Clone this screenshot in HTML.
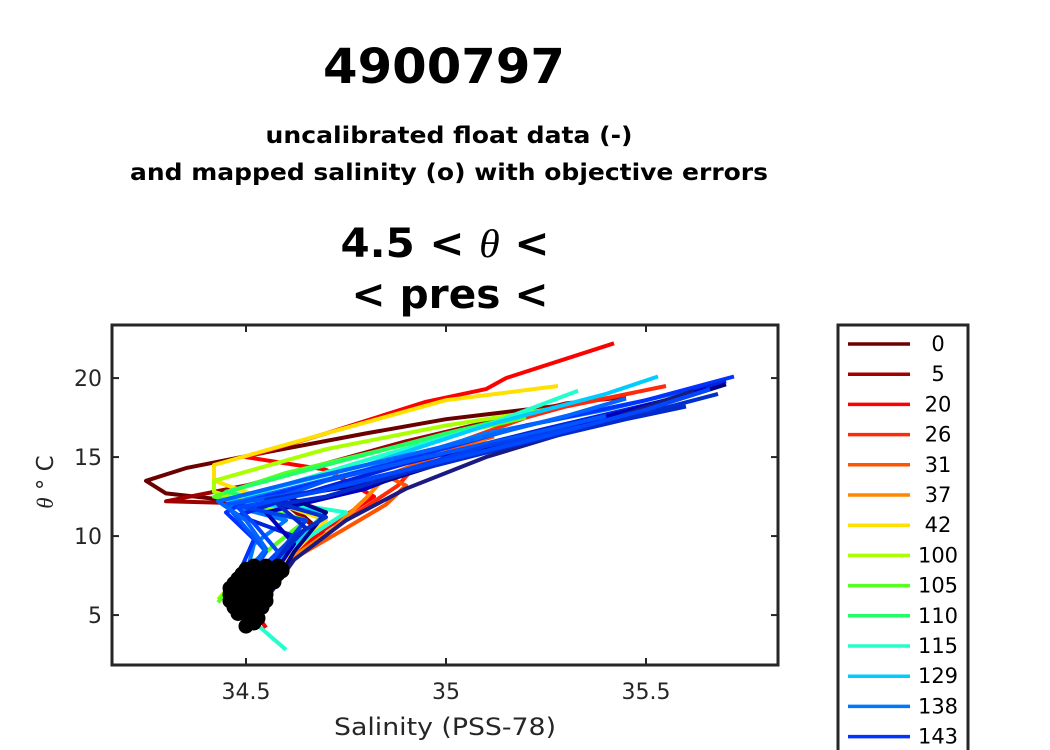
<!DOCTYPE html>
<html><head><meta charset="utf-8">
<style>
body{margin:0;background:#fff;width:1050px;height:750px;overflow:hidden;font-family:"Liberation Sans","DejaVu Sans",sans-serif;}
svg{display:block}
</style></head>
<body>
<svg id="chart" width="1050" height="750" font-family="DejaVu Sans, Liberation Sans, sans-serif">
  <text x="444" y="83" text-anchor="middle" font-size="48" font-weight="bold" textLength="242" lengthAdjust="spacingAndGlyphs">4900797</text>
  <text x="449" y="143" text-anchor="middle" font-size="23" font-weight="bold" textLength="367" lengthAdjust="spacingAndGlyphs">uncalibrated float data (-)</text>
  <text x="449" y="180" text-anchor="middle" font-size="23" font-weight="bold" textLength="638" lengthAdjust="spacingAndGlyphs">and mapped salinity (o) with objective errors</text>
  <text x="445" y="257" text-anchor="middle" font-size="40" font-weight="bold" textLength="209" lengthAdjust="spacingAndGlyphs">4.5 &lt; <tspan font-style="italic" font-family="Liberation Serif, serif" font-weight="normal">θ</tspan> &lt;</text>
  <text x="450" y="308" text-anchor="middle" font-size="40" font-weight="bold" textLength="197" lengthAdjust="spacingAndGlyphs">&lt; pres &lt;</text>
  <g id="plot"></g>
  <rect x="112" y="325" width="666" height="340" fill="none" stroke="#262626" stroke-width="3"/>
  <g id="ticks"></g>
  <text x="445" y="735" text-anchor="middle" font-size="24" fill="#262626" textLength="222" lengthAdjust="spacingAndGlyphs">Salinity (PSS-78)</text>
  <text transform="translate(53,482) rotate(-90)" text-anchor="middle" font-size="23" fill="#262626"><tspan font-style="italic" font-family="Liberation Serif, serif">θ</tspan>  °  C</text>
  <rect x="838" y="325" width="130" height="440" fill="#fff" stroke="#262626" stroke-width="3"/>
  <g id="legend"></g>
</svg>
<script>
const xTicks=[34.5,35,35.5];
const xTickLabels=["34.5","35","35.5"];
const yTicks=[5,10,15,20];
const yTickLabels=["5","10","15","20"];
const legendLabels=["0","5","20","26","31","37","42","100","105","110","115","129","138","143"];
const legendColors=["#6b0000","#a00000","#ff0000","#ff2a0a","#ff5500","#ff8800","#ffe000","#aaff00","#55ff22","#22ff66","#22ffcc","#00ccff","#0077ff","#0033ff"];
const profColors=["#6b0000","#a00000","#ff0000","#ff2a0a","#ff5500","#ff8800","#ffe000","#aaff00","#55ff22","#22ff66","#22ffcc","#00ccff","#0077ff","#0033ff","#0022dd","#0000bb","#000088","#1a1a80","#0055ff","#0040ee","#0030cc","#0066ff","#002acc","#0048ff"];
const profiles=[
 [[34.55,7.5],[34.7,10],[34.62,11.8],[34.3,12.7],[34.25,13.5],[34.35,14.3],[34.55,15.3],[34.8,16.5],[35,17.4],[35.3,18.3]],
 [[34.55,7.5],[34.7,10],[34.6,12],[34.3,12.2],[34.5,13.2],[34.7,14.6],[34.9,16],[35.1,17.2],[35.3,18.4],[35.45,18.8]],
 [[34.55,4.2],[34.5,6],[34.58,8],[34.7,10.5],[34.82,12.5],[34.7,14.2],[34.5,15],[34.7,16.5],[34.95,18.5],[35.1,19.3],[35.15,20],[35.42,22.2]],
 [[34.58,8],[34.75,11],[34.88,13.2],[34.95,15.2],[35.2,17.5],[35.3,18.2],[35.55,19.5]],
 [[34.58,8],[34.75,10.5],[34.85,12],[34.9,13.2],[34.85,13.8],[34.95,14.8],[35.05,15.8],[35.12,16.3]],
 [[34.58,8],[34.72,10.5],[34.8,12.4],[34.85,13.8],[34.95,14.3],[35.0,15],[35.1,16]],
 [[34.58,8],[34.7,11],[34.42,13.5],[34.42,14.5],[34.7,16.5],[35.0,18.6],[35.28,19.5]],
 [[34.43,6],[34.5,8],[34.65,11],[34.42,12.8],[34.42,13.5],[34.7,15.5],[35.0,17],[35.25,18]],
 [[34.43,5.8],[34.5,8],[34.65,11],[34.42,12.5],[34.6,14],[34.9,15.8],[35.2,17.5]],
 [[34.5,6],[34.6,9],[34.7,11.5],[34.45,12.8],[34.7,14.5],[35,16.5],[35.25,18]],
 [[34.6,2.8],[34.5,5],[34.6,9],[34.75,11.5],[34.5,12.5],[34.8,14.8],[35.1,17],[35.33,19.2]],
 [[34.5,5],[34.6,9],[34.7,11.5],[34.45,12.3],[34.8,14.5],[35.1,17],[35.4,19],[35.53,20.1]],
 [[34.5,6],[34.5,7.5],[34.52,9.5],[34.6,11],[34.45,12],[34.8,14.2],[35.1,16.5],[35.4,18],[35.65,19.5]],
 [[34.5,4.2],[34.48,7.5],[34.52,9.8],[34.45,11.5],[34.5,12.2],[34.85,14.5],[35.2,17],[35.5,18.6],[35.72,20.1]],
 [[34.52,5],[34.55,8],[34.62,10],[34.48,11.3],[34.62,12.5],[34.9,14.6],[35.25,16.8],[35.55,18.6],[35.7,19.8]],
 [[34.52,5],[34.58,8],[34.62,9.5],[34.55,11.5],[34.8,13],[35.0,15],[35.35,17.2],[35.65,19.3]],
 [[34.55,6],[34.62,9],[34.7,11.5],[34.6,12.5],[34.85,13.5],[35.1,15.5],[35.45,17.6],[35.7,19.6]],
 [[34.55,6],[34.62,8.5],[34.75,11],[34.9,13],[35.1,15],[35.4,17.3],[35.62,19.2]],
 [[34.5,7],[34.55,9],[34.5,10.5],[34.45,12],[34.6,12.6],[34.7,13.5],[34.95,15],[35.2,16.4],[35.4,17.6]],
 [[34.52,7.5],[34.6,9.5],[34.65,11],[34.5,11.8],[34.7,13],[34.9,14.2],[35.1,15.7],[35.35,17],[35.55,18.3]],
 [[34.55,7.5],[34.62,10],[34.7,11.2],[34.55,12.3],[34.75,13.2],[35.0,14.8],[35.25,16.3],[35.5,17.8],[35.68,19]],
 [[34.48,7],[34.55,9.2],[34.5,11],[34.43,12.2],[34.65,13.6],[34.85,14.8],[35.05,16],[35.3,17.6],[35.45,18.7]],
 [[34.55,7.8],[34.65,10.5],[34.58,12],[34.7,12.5],[34.9,14],[35.15,15.6],[35.45,17.4],[35.6,18.2]],
 [[34.5,6.5],[34.58,9],[34.52,10.8],[34.48,11.8],[34.68,12.8],[34.95,14.5],[35.2,16],[35.5,18],[35.66,19.3]]
];
const blobS=[34.5,34.52,34.53,34.51,34.48,34.52,34.47,34.51,34.54,34.46,34.49,34.52,34.55,34.46,34.49,34.52,34.55,34.46,34.49,34.52,34.55,34.47,34.5,34.53,34.56,34.48,34.51,34.54,34.57,34.49,34.52,34.55,34.58,34.5,34.53,34.56,34.59,34.52,34.55,34.58,34.54,34.57,34.59];
const blobT=[4.3,4.5,4.8,4.8,5.1,5.1,5.5,5.5,5.5,5.9,5.9,5.9,5.9,6.3,6.3,6.3,6.3,6.7,6.7,6.7,6.7,7.0,7.0,7.0,7.0,7.3,7.3,7.3,7.3,7.6,7.6,7.6,7.6,7.9,7.9,7.9,7.9,8.1,8.1,8.1,7.5,7.1,7.8];
const X=s=>112+(s-34.165)*400;
const Y=t=>665-(t-1.84)*15.8;
const NS='http://www.w3.org/2000/svg';
const plot=document.getElementById('plot');
profiles.forEach((p,i)=>{
  const el=document.createElementNS(NS,'polyline');
  
  
  el.setAttribute('points',p.map(q=>X(q[0]).toFixed(1)+','+Y(q[1]).toFixed(1)).join(' '));
  el.setAttribute('fill','none');el.setAttribute('stroke',profColors[i]);
  el.setAttribute('stroke-width','4');el.setAttribute('stroke-linejoin','round');
  plot.appendChild(el);
});
blobS.forEach((s,i)=>{
  const c=document.createElementNS(NS,'circle');
  
  
  c.setAttribute('cx',X(s));c.setAttribute('cy',Y(blobT[i]));c.setAttribute('r','7');
  c.setAttribute('fill','#000');c.setAttribute('stroke','#000');c.setAttribute('stroke-width','1');
  plot.appendChild(c);
});
const tk=document.getElementById('ticks');
xTicks.forEach((v,i)=>{
  const x=X(v);
  [[325,332],[658,665]].forEach(r=>{const l=document.createElementNS(NS,'line');
    
    
    l.setAttribute('x1',x);l.setAttribute('x2',x);l.setAttribute('y1',r[0]);l.setAttribute('y2',r[1]);l.setAttribute('stroke','#262626');l.setAttribute('stroke-width','2');tk.appendChild(l);});
  const t=document.createElementNS(NS,'text');
  
  
  t.setAttribute('x',x);t.setAttribute('y','699');t.setAttribute('text-anchor','middle');t.setAttribute('font-size','22');t.setAttribute('fill','#262626');
  t.textContent=xTickLabels[i];tk.appendChild(t);
});
yTicks.forEach((v,i)=>{
  const y=Y(v);
  [[112,119],[771,778]].forEach(r=>{const l=document.createElementNS(NS,'line');
    
    
    l.setAttribute('x1',r[0]);l.setAttribute('x2',r[1]);l.setAttribute('y1',y);l.setAttribute('y2',y);l.setAttribute('stroke','#262626');l.setAttribute('stroke-width','2');tk.appendChild(l);});
  const t=document.createElementNS(NS,'text');
  
  
  t.setAttribute('x','102');t.setAttribute('y',y+8);t.setAttribute('text-anchor','end');t.setAttribute('font-size','22');t.setAttribute('fill','#262626');
  t.textContent=yTickLabels[i];tk.appendChild(t);
});
const lg=document.getElementById('legend');
legendLabels.forEach((lab,i)=>{
  const y=344+30.2*i;
  const l=document.createElementNS(NS,'line');
  
  
  l.setAttribute('x1','848');l.setAttribute('x2','910');l.setAttribute('y1',y);l.setAttribute('y2',y);
  l.setAttribute('stroke',legendColors[i]);l.setAttribute('stroke-width','3.5');lg.appendChild(l);
  const t=document.createElementNS(NS,'text');
  
  
  t.setAttribute('x','938');t.setAttribute('y',y+7);t.setAttribute('text-anchor','middle');t.setAttribute('font-size','21');t.setAttribute('fill','#000');
  t.textContent=lab;lg.appendChild(t);
});
</script>
</body></html>
